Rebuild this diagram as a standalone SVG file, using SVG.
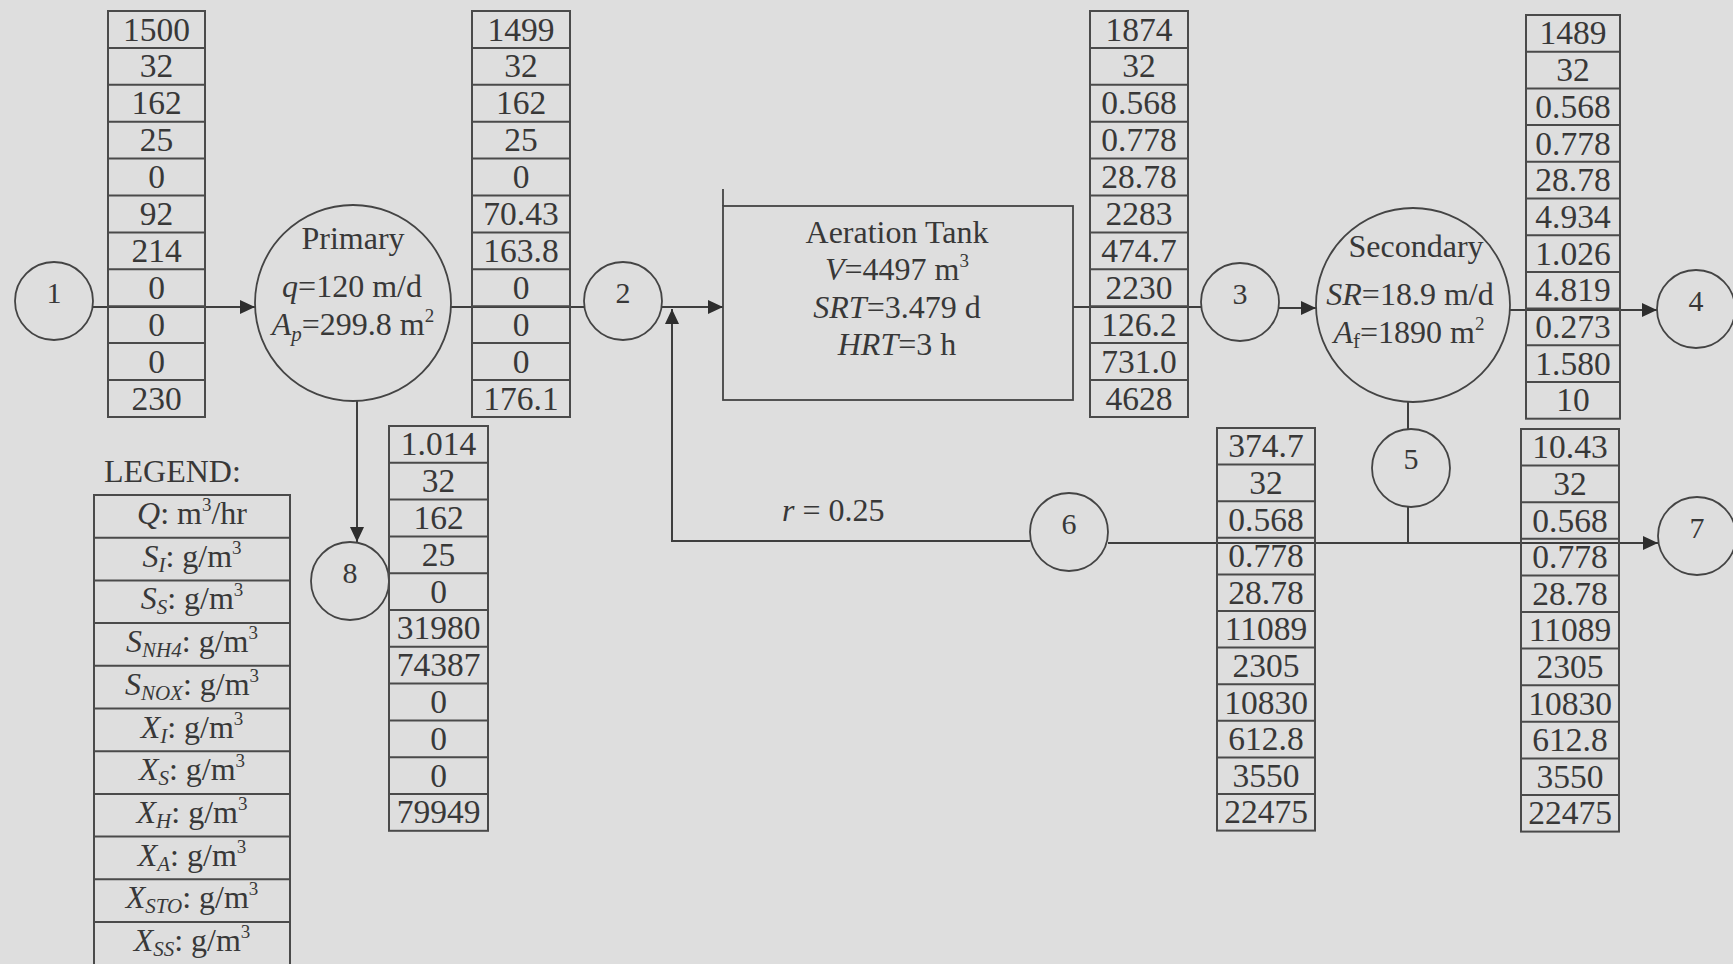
<svg xmlns="http://www.w3.org/2000/svg" width="1733" height="964" viewBox="0 0 1733 964">
<style>
  .ln{stroke:#3e3e3e;stroke-width:2;fill:none}
  .nd{stroke:#444;stroke-width:1.8;fill:none}
  .tb{stroke:#4a4a4a;stroke-width:2;fill:none}
  text{font-family:"Liberation Serif","Times New Roman",serif;font-size:32px;fill:#383838;text-anchor:middle}
  .tbl text{font-size:33.5px}
  .num text{font-size:30px}
  .it{font-style:italic}
  .sb{font-size:21px;font-style:italic}
  .sp{font-size:19px}
  .lt{text-anchor:start}
</style>
<defs>
  <marker id="ah" markerUnits="userSpaceOnUse" markerWidth="16" markerHeight="14" refX="15" refY="7" orient="auto">
    <path d="M0,0 L15,7 L0,14 z" fill="#2e2e2e"/>
  </marker>
</defs>
<rect x="0" y="0" width="1733" height="964" fill="#dedede"/>

<g id="connectors">
  <line class="ln" x1="93" y1="307" x2="255" y2="307" marker-end="url(#ah)"/>
  <line class="ln" x1="451" y1="307" x2="584" y2="307"/>
  <line class="ln" x1="662" y1="307" x2="723" y2="307" marker-end="url(#ah)"/>
  <line class="ln" x1="1073" y1="307" x2="1201" y2="307"/>
  <line class="ln" x1="1279" y1="308" x2="1316" y2="308" marker-end="url(#ah)"/>
  <line class="ln" x1="1510" y1="310" x2="1657" y2="310" marker-end="url(#ah)"/>
  <line class="ln" x1="357" y1="400" x2="357" y2="542" marker-end="url(#ah)"/>
  <line class="ln" x1="1408" y1="402" x2="1408" y2="429"/>
  <line class="ln" x1="1408" y1="507" x2="1408" y2="543"/>
  <line class="ln" x1="1108" y1="543" x2="1658" y2="543" marker-end="url(#ah)"/>
  <polyline class="ln" points="1030,541 672,541 672,309" marker-end="url(#ah)"/>
  <text class="lt" x="782" y="521"><tspan class="it">r</tspan> = 0.25</text>
</g>

<g class="num">
<g id="node-1"><circle class="nd" cx="54" cy="301" r="39"/><text x="54" y="303">1</text></g>
<g id="node-2"><circle class="nd" cx="623" cy="301" r="39"/><text x="623" y="303">2</text></g>
<g id="node-3"><circle class="nd" cx="1240" cy="302" r="39"/><text x="1240" y="304">3</text></g>
<g id="node-4"><circle class="nd" cx="1696" cy="309" r="39"/><text x="1696" y="311">4</text></g>
<g id="node-5"><circle class="nd" cx="1411" cy="468" r="39"/><text x="1411" y="469">5</text></g>
<g id="node-6"><circle class="nd" cx="1069" cy="532" r="39"/><text x="1069" y="534">6</text></g>
<g id="node-7"><circle class="nd" cx="1697" cy="536" r="39"/><text x="1697" y="538">7</text></g>
<g id="node-8"><circle class="nd" cx="350" cy="581" r="39"/><text x="350" y="583">8</text></g>
</g>

<g id="primary">
  <circle class="nd" cx="353" cy="303" r="98"/>
  <text x="353" y="249">Primary</text>
  <text x="352" y="297"><tspan class="it">q</tspan>=120 m/d</text>
  <text x="353" y="335"><tspan class="it">A</tspan><tspan class="sb" dy="6">p</tspan><tspan dy="-6">=299.8 m</tspan><tspan class="sp" dy="-13">2</tspan></text>
</g>

<g id="aeration-tank">
  <rect class="nd" x="723" y="206" width="350" height="194"/>
  <line class="nd" x1="723" y1="189" x2="723" y2="206"/>
  <text x="897" y="243">Aeration Tank</text>
  <text x="897" y="280"><tspan class="it">V</tspan>=4497 m<tspan class="sp" dy="-13">3</tspan></text>
  <text x="897" y="318"><tspan class="it">SRT</tspan>=3.479 d</text>
  <text x="897" y="355"><tspan class="it">HRT</tspan>=3 h</text>
</g>

<g id="secondary">
  <circle class="nd" cx="1413" cy="305" r="97"/>
  <text x="1416" y="257">Secondary</text>
  <text x="1410" y="305"><tspan class="it">SR</tspan>=18.9 m/d</text>
  <text x="1409" y="343"><tspan class="it">A</tspan><tspan font-size="21" dy="5">f</tspan><tspan dy="-5">=1890 m</tspan><tspan class="sp" dy="-13">2</tspan></text>
</g>

<g id="table-1" class="tbl">
  <rect class="tb" x="108" y="11" width="97" height="406"/>
  <path class="tb" d="M108 47.9H205M108 84.8H205M108 121.7H205M108 158.6H205M108 195.5H205M108 232.4H205M108 269.3H205M108 306.2H205M108 343.1H205M108 380H205"/>
  <text x="156.5" y="40.5">1500</text><text x="156.5" y="77.4">32</text><text x="156.5" y="114.3">162</text><text x="156.5" y="151.2">25</text><text x="156.5" y="188.1">0</text><text x="156.5" y="225">92</text><text x="156.5" y="261.9">214</text><text x="156.5" y="298.8">0</text><text x="156.5" y="335.7">0</text><text x="156.5" y="372.6">0</text><text x="156.5" y="409.5">230</text>
</g>

<g id="table-2" class="tbl">
  <rect class="tb" x="472" y="11" width="98" height="406"/>
  <path class="tb" d="M472 47.9H570M472 84.8H570M472 121.7H570M472 158.6H570M472 195.5H570M472 232.4H570M472 269.3H570M472 306.2H570M472 343.1H570M472 380H570"/>
  <text x="521" y="40.5">1499</text><text x="521" y="77.4">32</text><text x="521" y="114.3">162</text><text x="521" y="151.2">25</text><text x="521" y="188.1">0</text><text x="521" y="225">70.43</text><text x="521" y="261.9">163.8</text><text x="521" y="298.8">0</text><text x="521" y="335.7">0</text><text x="521" y="372.6">0</text><text x="521" y="409.5">176.1</text>
</g>

<g id="table-3" class="tbl">
  <rect class="tb" x="1090" y="11" width="98" height="406"/>
  <path class="tb" d="M1090 47.9H1188M1090 84.8H1188M1090 121.7H1188M1090 158.6H1188M1090 195.5H1188M1090 232.4H1188M1090 269.3H1188M1090 306.2H1188M1090 343.1H1188M1090 380H1188"/>
  <text x="1139" y="40.5">1874</text><text x="1139" y="77.4">32</text><text x="1139" y="114.3">0.568</text><text x="1139" y="151.2">0.778</text><text x="1139" y="188.1">28.78</text><text x="1139" y="225">2283</text><text x="1139" y="261.9">474.7</text><text x="1139" y="298.8">2230</text><text x="1139" y="335.7">126.2</text><text x="1139" y="372.6">731.0</text><text x="1139" y="409.5">4628</text>
</g>

<g id="table-4" class="tbl">
  <rect class="tb" x="1526" y="15" width="94" height="403.7"/>
  <path class="tb" d="M1526 51.7H1620M1526 88.4H1620M1526 125.1H1620M1526 161.8H1620M1526 198.5H1620M1526 235.2H1620M1526 271.9H1620M1526 308.6H1620M1526 345.3H1620M1526 382H1620"/>
  <text x="1573" y="44.4">1489</text><text x="1573" y="81.1">32</text><text x="1573" y="117.8">0.568</text><text x="1573" y="154.5">0.778</text><text x="1573" y="191.2">28.78</text><text x="1573" y="227.9">4.934</text><text x="1573" y="264.6">1.026</text><text x="1573" y="301.3">4.819</text><text x="1573" y="338">0.273</text><text x="1573" y="374.7">1.580</text><text x="1573" y="411.4">10</text>
</g>

<g id="table-8" class="tbl">
  <rect class="tb" x="389" y="426" width="99" height="404.8"/>
  <path class="tb" d="M389 462.8H488M389 499.6H488M389 536.4H488M389 573.2H488M389 610H488M389 646.8H488M389 683.6H488M389 720.4H488M389 757.2H488M389 794H488"/>
  <text x="438.5" y="455.4">1.014</text><text x="438.5" y="492.2">32</text><text x="438.5" y="529">162</text><text x="438.5" y="565.8">25</text><text x="438.5" y="602.6">0</text><text x="438.5" y="639.4">31980</text><text x="438.5" y="676.2">74387</text><text x="438.5" y="713">0</text><text x="438.5" y="749.8">0</text><text x="438.5" y="786.6">0</text><text x="438.5" y="823.4">79949</text>
</g>

<g id="table-6" class="tbl">
  <rect class="tb" x="1217" y="428" width="98" height="402.6"/>
  <path class="tb" d="M1217 464.6H1315M1217 501.2H1315M1217 537.8H1315M1217 574.4H1315M1217 611H1315M1217 647.6H1315M1217 684.2H1315M1217 720.8H1315M1217 757.4H1315M1217 794H1315"/>
  <text x="1266" y="457.3">374.7</text><text x="1266" y="493.9">32</text><text x="1266" y="530.5">0.568</text><text x="1266" y="567.1">0.778</text><text x="1266" y="603.7">28.78</text><text x="1266" y="640.3">11089</text><text x="1266" y="676.9">2305</text><text x="1266" y="713.5">10830</text><text x="1266" y="750.1">612.8</text><text x="1266" y="786.7">3550</text><text x="1266" y="823.3">22475</text>
</g>

<g id="table-7" class="tbl">
  <rect class="tb" x="1521" y="429" width="98" height="402.6"/>
  <path class="tb" d="M1521 465.6H1619M1521 502.2H1619M1521 538.8H1619M1521 575.4H1619M1521 612H1619M1521 648.6H1619M1521 685.2H1619M1521 721.8H1619M1521 758.4H1619M1521 795H1619"/>
  <text x="1570" y="458.3">10.43</text><text x="1570" y="494.9">32</text><text x="1570" y="531.5">0.568</text><text x="1570" y="568.1">0.778</text><text x="1570" y="604.7">28.78</text><text x="1570" y="641.3">11089</text><text x="1570" y="677.9">2305</text><text x="1570" y="714.5">10830</text><text x="1570" y="751.1">612.8</text><text x="1570" y="787.7">3550</text><text x="1570" y="824.3">22475</text>
</g>

<g id="legend">
  <text class="lt" x="104" y="482" font-size="34">LEGEND:</text>
  <rect class="tb" x="94" y="495" width="196" height="480"/>
  <path class="tb" d="M94 537.7H290M94 580.4H290M94 623.1H290M94 665.8H290M94 708.5H290M94 751.2H290M94 793.9H290M94 836.6H290M94 879.3H290M94 922H290"/>
  <text x="192" y="524"><tspan class="it">Q</tspan>: m<tspan class="sp" dy="-13">3</tspan><tspan dy="13">/hr</tspan></text>
  <text x="192" y="566.7"><tspan class="it">S</tspan><tspan class="sb" dy="5">I</tspan><tspan dy="-5">: g/m</tspan><tspan class="sp" dy="-13">3</tspan></text>
  <text x="192" y="609.4"><tspan class="it">S</tspan><tspan class="sb" dy="5">S</tspan><tspan dy="-5">: g/m</tspan><tspan class="sp" dy="-13">3</tspan></text>
  <text x="192" y="652.1"><tspan class="it">S</tspan><tspan class="sb" dy="5">NH4</tspan><tspan dy="-5">: g/m</tspan><tspan class="sp" dy="-13">3</tspan></text>
  <text x="192" y="694.8"><tspan class="it">S</tspan><tspan class="sb" dy="5">NOX</tspan><tspan dy="-5">: g/m</tspan><tspan class="sp" dy="-13">3</tspan></text>
  <text x="192" y="737.5"><tspan class="it">X</tspan><tspan class="sb" dy="5">I</tspan><tspan dy="-5">: g/m</tspan><tspan class="sp" dy="-13">3</tspan></text>
  <text x="192" y="780.2"><tspan class="it">X</tspan><tspan class="sb" dy="5">S</tspan><tspan dy="-5">: g/m</tspan><tspan class="sp" dy="-13">3</tspan></text>
  <text x="192" y="822.9"><tspan class="it">X</tspan><tspan class="sb" dy="5">H</tspan><tspan dy="-5">: g/m</tspan><tspan class="sp" dy="-13">3</tspan></text>
  <text x="192" y="865.6"><tspan class="it">X</tspan><tspan class="sb" dy="5">A</tspan><tspan dy="-5">: g/m</tspan><tspan class="sp" dy="-13">3</tspan></text>
  <text x="192" y="908.3"><tspan class="it">X</tspan><tspan class="sb" dy="5">STO</tspan><tspan dy="-5">: g/m</tspan><tspan class="sp" dy="-13">3</tspan></text>
  <text x="192" y="951"><tspan class="it">X</tspan><tspan class="sb" dy="5">SS</tspan><tspan dy="-5">: g/m</tspan><tspan class="sp" dy="-13">3</tspan></text>
</g>
</svg>
